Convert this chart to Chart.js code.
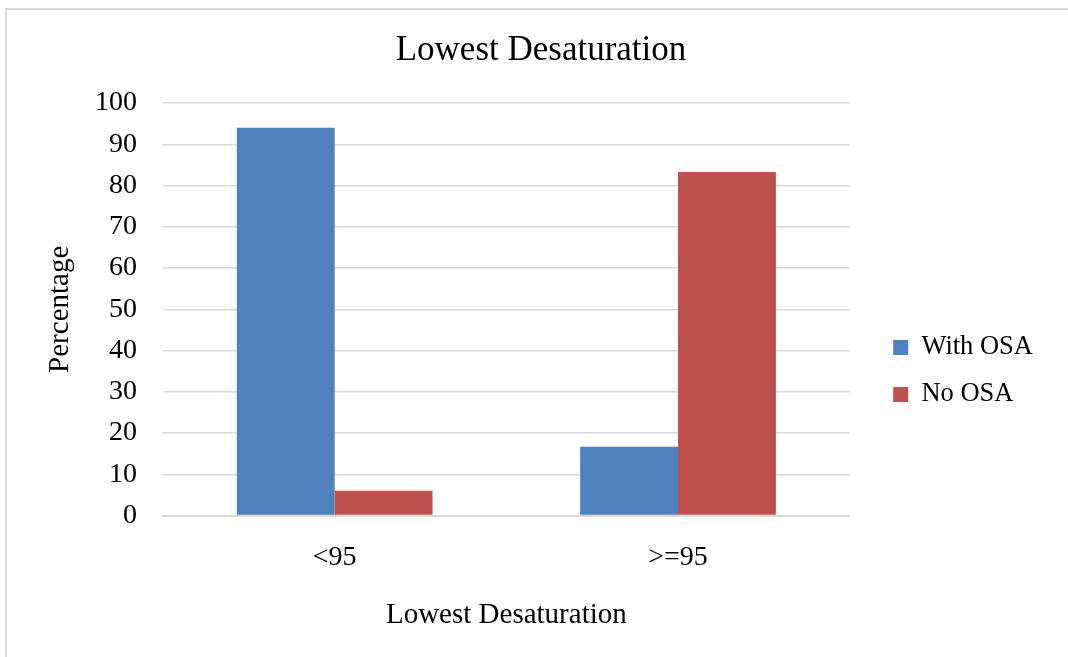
<!DOCTYPE html>
<html>
<head>
<meta charset="utf-8">
<script src="https://cdn.jsdelivr.net/npm/chart.js@4/dist/chart.umd.min.js"></script>
<style>
  html, body { margin: 0; padding: 0; background: #ffffff; overflow: hidden; }
  #wrap { position: relative; width: 1068px; height: 657px; }
  #frame { position: absolute; left: 5px; top: 8px; width: 1200px; height: 800px;
           border-left: 2px solid #d9d9d9; border-top: 2px solid #d9d9d9; background: #ffffff; }
  #chart { position: absolute; left: 0; top: 0; }
</style>
</head>
<body>
<div id="wrap">
  <div id="frame"></div>
  <canvas id="chart" width="1068" height="657"></canvas>
</div>
<script>
// Categories and series (percent of patients)
const categories = ['<95', '>=95'];
const withOSA = [94, 16.7];
const noOSA = [6, 83.3];
const yTicks = [0, 10, 20, 30, 40, 50, 60, 70, 80, 90, 100];

const serif = '"Liberation Serif", "Times New Roman", serif';

// Fine-tunes where the legend block and the chart title sit after layout
const blockOffsets = {
  id: 'blockOffsets',
  afterLayout(chart, args, opts) {
    const lg = chart.legend;
    if (lg) {
      lg.left += opts.legendDx; lg.right += opts.legendDx;
      lg.top += opts.legendDy; lg.bottom += opts.legendDy;
    }
    const tb = chart.titleBlock;
    if (tb) { tb.left += opts.titleDx; tb.right += opts.titleDx; }
  }
};

new Chart(document.getElementById('chart'), {
  type: 'bar',
  data: {
    labels: categories,
    datasets: [
      { label: 'With OSA', data: withOSA, backgroundColor: '#4F81BD' },
      { label: 'No OSA', data: noOSA, backgroundColor: '#C0504D' }
    ]
  },
  options: {
    responsive: false,
    animation: false,
    events: [],
    layout: { padding: { left: 42, right: 48, top: 0, bottom: 24 } },
    datasets: { bar: { barPercentage: 1.0, categoryPercentage: 0.57 } },
    plugins: {
      title: {
        display: true,
        text: 'Lowest Desaturation',
        color: '#000000',
        font: { family: serif, size: 35, weight: 'normal' },
        padding: { top: 30, bottom: 31 }
      },
      legend: {
        position: 'right',
        labels: {
          color: '#000000',
          boxWidth: 15,
          boxHeight: 15,
          padding: 20.5,
          font: { family: serif, size: 26.5 }
        }
      },
      tooltip: { enabled: false },
      blockOffsets: { legendDx: 23, legendDy: 54.5, titleDx: 10 }
    },
    scales: {
      x: {
        grid: { display: false, drawTicks: false },
        border: { display: true, color: '#d9d9d9', width: 2 },
        ticks: { color: '#000000', padding: 25, font: { family: serif, size: 28 } },
        title: {
          display: true,
          text: 'Lowest Desaturation',
          color: '#000000',
          font: { family: serif, size: 29 },
          padding: { top: -1, bottom: 0 }
        }
      },
      y: {
        min: 0,
        max: 100,
        afterBuildTicks(axis) { axis.ticks = yTicks.map(v => ({ value: v })); },
        afterFit(axis) { axis.width = 121; },
        grid: { color: '#d9d9d9', lineWidth: 1.5, drawTicks: false },
        border: { display: false },
        ticks: { color: '#000000', padding: 26, font: { family: serif, size: 28 } },
        title: {
          display: true,
          text: 'Percentage',
          color: '#000000',
          font: { family: serif, size: 29 },
          padding: { top: 1, bottom: 16 }
        }
      }
    }
  },
  plugins: [blockOffsets]
});
</script>
</body>
</html>
